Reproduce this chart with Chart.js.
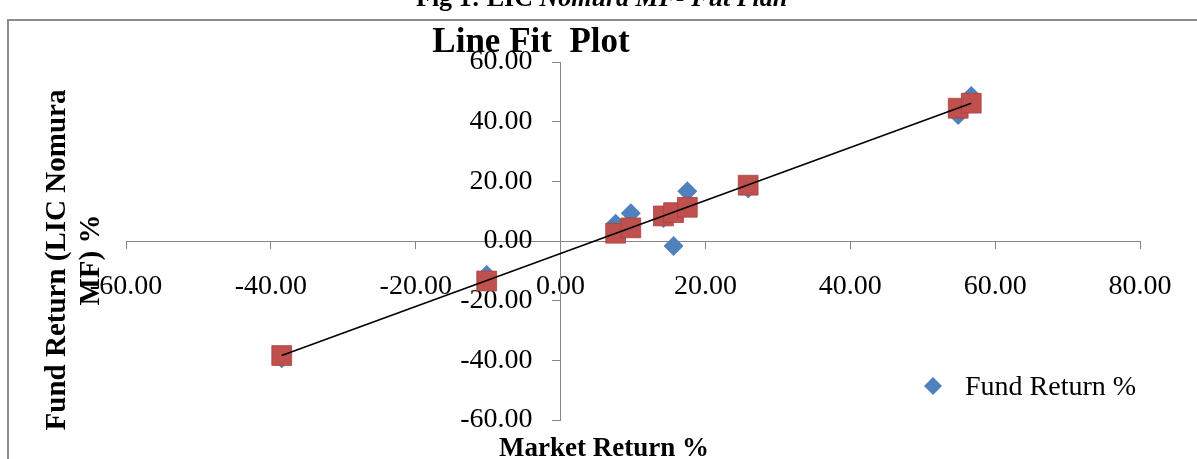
<!DOCTYPE html>
<html>
<head>
<meta charset="utf-8">
<title>Line Fit Plot</title>
<script src="https://cdn.jsdelivr.net/npm/chart.js@4"></script>
<style>
  html, body { margin: 0; padding: 0; background: #ffffff; }
  #wrap { position: relative; width: 1197px; height: 459px; }
</style>
</head>
<body>
<div id="wrap"><canvas id="lineFit" width="1197" height="459"></canvas></div>
<script>
// values
const marketReturn = [-38.5, -10.2, 7.6, 9.7, 14.2, 15.6, 17.5, 25.9, 54.9, 56.7];
const fundReturn = [-39.3, -11.4, 5.8, 9.3, 7.7, -1.7, 16.7, 17.6, 42.2, 48.6];
const predictedReturn = [-38.4, -13.4, 2.6, 4.4, 8.4, 9.5, 11.3, 18.7, 44.5, 46.2];
const trendX = [-38.5, 56.7];
const trendY = [-38.4, 46.2];
const xTicks = [-60, -40, -20, 0, 20, 40, 60, 80];
const yTicks = [-60, -40, -20, 0, 20, 40, 60];

const serif = '"Liberation Serif", "Times New Roman", serif';
const axisGrey = '#868686';

const toPoints = (xs, ys) => xs.map((x, i) => ({ x, y: ys[i] }));

// frame, titles and legend drawn straight on the canvas
const decorations = {
  id: 'decorations',
  beforeDraw(chart) {
    const ctx = chart.ctx;
    ctx.save();
    ctx.fillStyle = '#ffffff';
    ctx.fillRect(0, 0, chart.width, chart.height);
    ctx.strokeStyle = '#8c8c8c';
    ctx.lineWidth = 2;
    ctx.beginPath();
    ctx.moveTo(8, chart.height + 5);
    ctx.lineTo(8, 20);
    ctx.lineTo(chart.width + 5, 20);
    ctx.stroke();

    // caption above the frame, mostly cut off in the original
    ctx.fillStyle = '#000000';
    ctx.textAlign = 'left';
    ctx.textBaseline = 'alphabetic';
    ctx.font = 'bold 26px ' + serif;
    const head = 'Fig 1: LIC ';
    ctx.fillText(head, 416, 6);
    const w = ctx.measureText(head).width;
    ctx.font = 'italic bold 26px ' + serif;
    ctx.fillText('Nomura MF- Fut Plan', 416 + w, 6);
    ctx.restore();
  },
  afterDraw(chart) {
    const ctx = chart.ctx;
    ctx.save();
    ctx.fillStyle = '#000000';
    ctx.textAlign = 'center';
    ctx.textBaseline = 'alphabetic';

    ctx.font = 'bold 35px ' + serif;
    ctx.fillText('Line Fit  Plot', 531, 52);

    ctx.font = 'bold 27px ' + serif;
    ctx.fillText('Market Return %', 604, 456);

    ctx.save();
    ctx.translate(58, 260);
    ctx.rotate(-Math.PI / 2);
    ctx.font = 'bold 29px ' + serif;
    ctx.textBaseline = 'middle';
    ctx.fillText('Fund Return (LIC Nomura', 0, 0);
    ctx.fillText('MF) %', 0, 34);
    ctx.restore();

    // legend
    ctx.fillStyle = '#4F81BD';
    ctx.beginPath();
    ctx.moveTo(933, 377);
    ctx.lineTo(942, 386);
    ctx.lineTo(933, 395);
    ctx.lineTo(924, 386);
    ctx.closePath();
    ctx.fill();
    ctx.fillStyle = '#000000';
    ctx.textAlign = 'left';
    ctx.font = '28px ' + serif;
    ctx.fillText('Fund Return %', 965, 395);
    ctx.restore();
  }
};

const xTickFormat = (val) => Number(val).toFixed(2);
// y labels sit right on the crossing axis, trailing spaces give the gap
const yTickFormat = (val) => Number(val).toFixed(2) + '    ';

new Chart(document.getElementById('lineFit').getContext('2d'), {
  type: 'scatter',
  data: {
    datasets: [
      {
        label: 'Line Fit',
        type: 'line',
        data: toPoints(trendX, trendY),
        borderColor: '#000000',
        borderWidth: 1.6,
        pointRadius: 0,
        fill: false,
        tension: 0
      },
      {
        label: 'Predicted Fund Return %',
        data: toPoints(marketReturn, predictedReturn),
        pointStyle: 'rect',
        pointRadius: 14,
        backgroundColor: '#C0504D',
        borderColor: 'rgba(170, 65, 62, 0.8)',
        borderWidth: 1
      },
      {
        label: 'Fund Return %',
        data: toPoints(marketReturn, fundReturn),
        pointStyle: 'rectRot',
        pointRadius: 10,
        backgroundColor: '#4F81BD',
        borderColor: '#4F81BD',
        borderWidth: 0
      }
    ]
  },
  options: {
    responsive: false,
    animation: false,
    layout: { padding: { left: 126, right: 57, top: 62, bottom: 39 } },
    plugins: {
      legend: { display: false },
      title: { display: false },
      tooltip: { enabled: false }
    },
    scales: {
      x: {
        type: 'linear',
        min: xTicks[0],
        max: xTicks[xTicks.length - 1],
        position: { y: 0 },
        afterBuildTicks: (scale) => { scale.ticks = xTicks.map(value => ({ value })); },
        ticks: { color: '#000000', font: { family: serif, size: 28 }, padding: 22, callback: xTickFormat, maxRotation: 0, autoSkip: false },
        grid: { drawOnChartArea: false, drawTicks: true, tickLength: 7, color: axisGrey },
        border: { color: axisGrey, width: 1 }
      },
      y: {
        type: 'linear',
        min: yTicks[0],
        max: yTicks[yTicks.length - 1],
        position: { x: 0 },
        afterBuildTicks: (scale) => { scale.ticks = yTicks.map(value => ({ value })); },
        ticks: { color: '#000000', font: { family: serif, size: 28 }, callback: yTickFormat, autoSkip: false },
        grid: { drawOnChartArea: false, drawTicks: true, tickLength: 8, color: axisGrey },
        border: { color: axisGrey, width: 1 }
      }
    }
  },
  plugins: [decorations]
});
</script>
</body>
</html>
